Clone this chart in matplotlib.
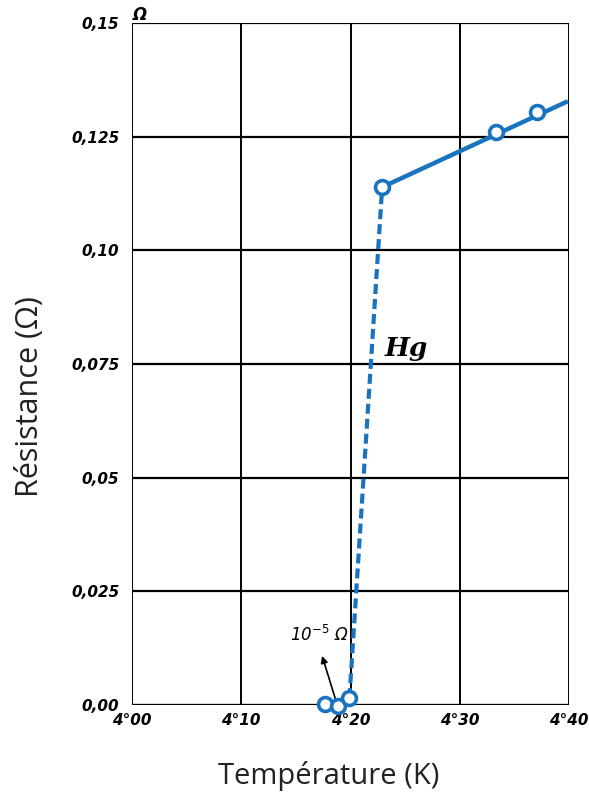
import matplotlib
matplotlib.use("Agg")
import matplotlib.pyplot as plt

# Data (temperature in K, resistance in ohm)
temp_points = [4.177, 4.189, 4.199, 4.229, 4.333, 4.371]
res_points = [0.0003, -0.0002, 0.0015, 0.1139, 0.126, 0.1304]

dash_T = [4.199, 4.229]
dash_R = [0.0015, 0.1139]

solid_T = [4.229, 4.399]
solid_R = [0.1139, 0.1328]

xticks = [4.00, 4.10, 4.20, 4.30, 4.40]
xtick_labels = ["4°00", "4°10", "4°20", "4°30", "4°40"]
yticks = [0.0, 0.025, 0.05, 0.075, 0.10, 0.125, 0.15]
ytick_labels = ["0,00", "0,025", "0,05", "0,075", "0,10", "0,125", "0,15"]

blue = "#1a73bf"

fig = plt.figure(figsize=(5.89, 7.96), dpi=100)
ax = fig.add_axes([132/589, 1-705/796, (569-132)/589, (705-23)/796])
ax.set_xlim(4.0, 4.4)
ax.set_ylim(0, 0.15)
for s in ax.spines.values():
    s.set_visible(False)

# hand-drawn grid
for x in xticks:
    ax.axvline(x, color="black", lw=1.4, zorder=1)
for y in yticks:
    ax.axhline(y, color="black", lw=2.4 if y == 0 else 1.6, zorder=1)

tick_font = dict(family="DejaVu Sans", weight="bold", style="italic", size=11)
ax.set_xticks(xticks)
ax.set_xticklabels(xtick_labels, fontdict=tick_font)
ax.set_yticks(yticks)
ax.set_yticklabels(ytick_labels, fontdict=tick_font)
ax.tick_params(length=0, pad=6)
ax.tick_params(axis="y", pad=9)

ax.text(4.0005, 0.1497, "Ω", ha="left", va="bottom", family="DejaVu Sans",
        weight="bold", style="italic", size=12)

# curve
ax.plot(dash_T, dash_R, color=blue, lw=3.0, ls=(0, (2.4, 1.2)), zorder=3, clip_on=False)
ax.plot(solid_T, solid_R, color=blue, lw=3.2, zorder=3, clip_on=False,
        solid_capstyle="butt")
ax.plot(temp_points, res_points, ls="none", marker="o", ms=10, mfc="white",
        mec=blue, mew=2.6, zorder=4, clip_on=False)

ax.text(4.251, 0.0785, "Hg", fontsize=19, family="DejaVu Serif", style="italic",
        weight="bold", ha="center", va="center")

ax.text(4.1718, 0.0155, "10$^{-5}$ Ω", fontsize=12, family="DejaVu Sans",
        style="italic", ha="center", va="center")
ax.annotate("", xy=(4.1740, 0.0108), xytext=(4.1875, 0.0003),
            arrowprops=dict(arrowstyle="-|>", color="black", lw=1.2,
                            mutation_scale=10, shrinkA=0, shrinkB=0))

fig.text(329/589, 1-776/796, "Température (K)", ha="center", va="center",
         fontsize=21, family="Open Sans", color="#222222")
fig.text(30/589, 1-397/796, "Résistance (Ω)", ha="center", va="center",
         rotation=90, fontsize=22, family="Open Sans", color="#222222")

fig.savefig("out.png", dpi=100, facecolor="white")
